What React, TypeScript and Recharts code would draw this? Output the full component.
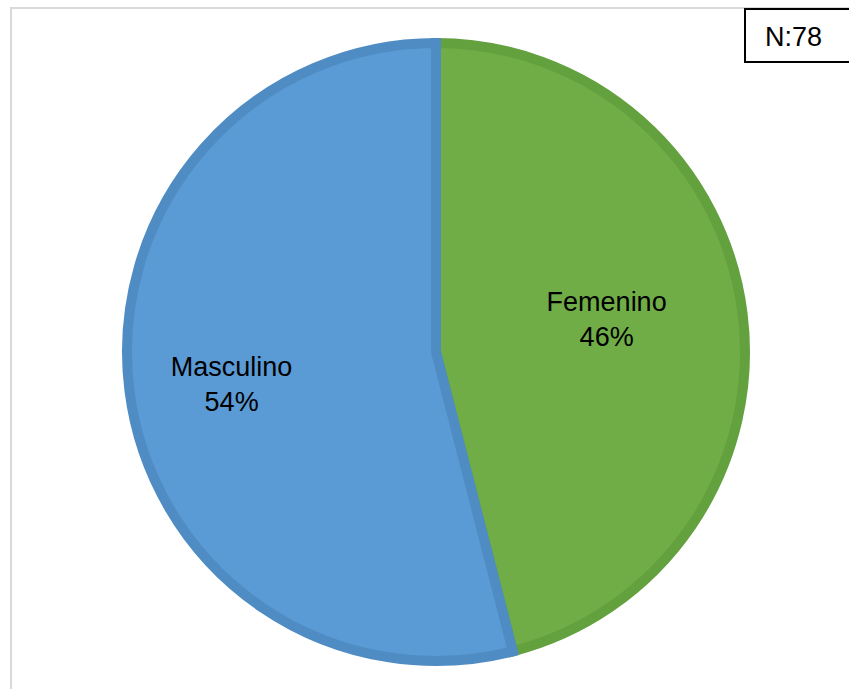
import { PieChart, Pie, Cell } from 'recharts'

const categories = ['Femenino', 'Masculino']
const percents = [46, 54]
const sampleLabel = 'N:78'

const fills = ['#70ad47', '#5b9bd5']
const edges = ['#63a03e', '#4f8cc4']

const data = categories.map((name, i) => ({ name, value: percents[i] }))

// excel's "best fit" puts the labels a bit off the mid ray
const labelSpots = [
    { r: 172, dy: -15 },
    { r: 206, dy: 2 },
]

const RADIAN = Math.PI / 180
const FONT = '"Liberation Sans", Arial, sans-serif'

const renderLabel = (props: any) => {
    const { cx, cy, midAngle, index, name, value } = props
    const spot = labelSpots[index]
    const x = cx + spot.r * Math.cos(-midAngle * RADIAN)
    const y = cy + spot.r * Math.sin(-midAngle * RADIAN) + spot.dy
    return (
        <text x={x} y={y} textAnchor="middle" fill="#000" fontFamily={FONT} fontSize={27}>
            <tspan x={x} dy={-4}>{name}</tspan>
            <tspan x={x} dy={35}>{`${value}%`}</tspan>
        </text>
    )
}

const App = () => {
    return (
        <div style={{ position: 'absolute', left: 0, top: 0, width: 849, height: 689, overflow: 'hidden', background: '#fff' }}>
            <div
                style={{
                    position: 'absolute',
                    left: 10,
                    top: 7,
                    width: 900,
                    height: 720,
                    border: '2px solid #d9d9d9',
                }}
            />
            <div style={{ position: 'absolute', left: 0, top: 0 }}>
                <PieChart width={849} height={689} margin={{ top: 0, right: 0, bottom: 0, left: 0 }}>
                    <Pie
                        data={data}
                        dataKey="value"
                        nameKey="name"
                        cx={436}
                        cy={352}
                        outerRadius={309}
                        startAngle={90}
                        endAngle={-270}
                        strokeWidth={10}
                        label={renderLabel}
                        labelLine={false}
                        isAnimationActive={false}
                    >
                        {data.map((d, i) => (
                            <Cell key={d.name} fill={fills[i]} stroke={edges[i]} />
                        ))}
                    </Pie>
                </PieChart>
            </div>
            <div
                style={{
                    position: 'absolute',
                    left: 744,
                    top: 8,
                    width: 120,
                    height: 48,
                    paddingTop: 3,
                    border: '2px solid #000',
                    background: '#fff',
                    fontFamily: FONT,
                    fontSize: 27,
                    lineHeight: '48px',
                    paddingLeft: 19,
                    boxSizing: 'content-box',
                }}
            >
                {sampleLabel}
            </div>
        </div>
    )
}

export default App
